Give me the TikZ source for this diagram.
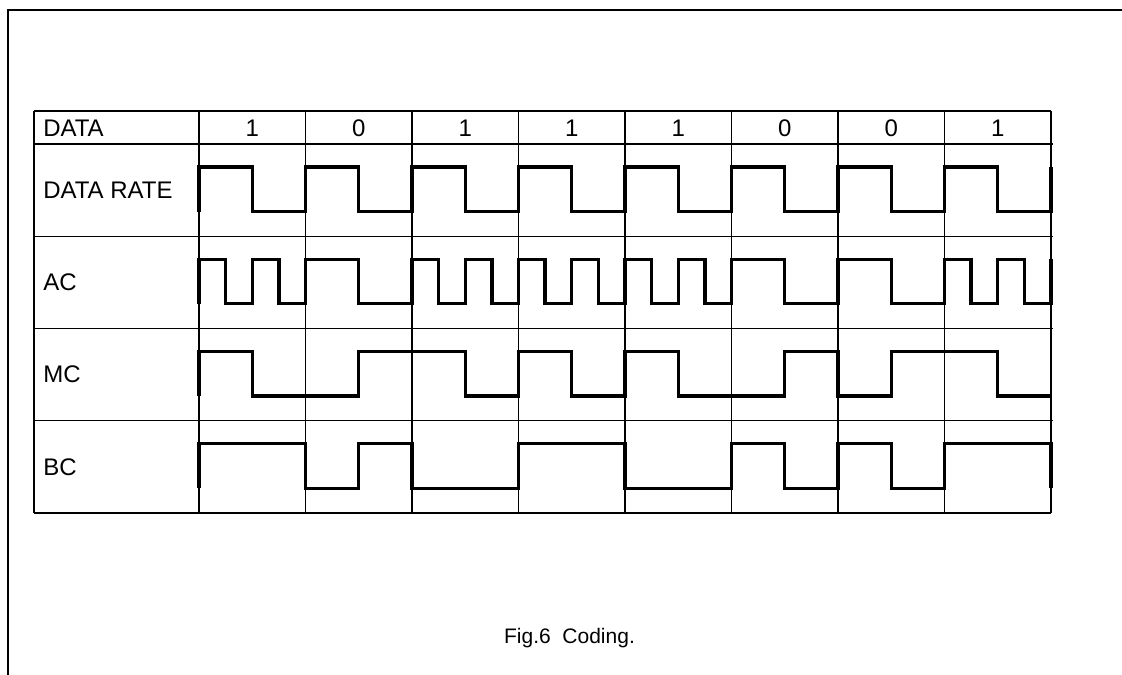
\documentclass[tikz,border=0pt]{standalone}
\usepackage{fontspec}
\setmainfont{Liberation Sans}
\begin{document}
\begin{tikzpicture}[x=0.75pt,y=-0.75pt,
  gridline/.style={line width=0.85pt},
  borderline/.style={line width=1.1pt},
  wave/.style={line width=2.6pt,line join=miter,line cap=butt},
  lbl/.style={anchor=base west,inner sep=0pt,font=\fontsize{18}{21}\selectfont},
  bitlbl/.style={anchor=base,inner sep=0pt,font=\fontsize{18}{21}\selectfont},
  caption/.style={anchor=base,inner sep=0pt,font=\fontsize{15.75}{18}\selectfont}]
\useasboundingbox (0,0) rectangle (1122,675);
% outer frame (partially visible)
\draw[line width=1.5pt] (8,675) -- (8,10) -- (1122,10);
% table rows
\foreach \yy in {144,236.25,328.5,420.75}
  \draw[gridline] (34,\yy) -- (1053,\yy);
\draw[borderline] (34,111) -- (1051,111);
\draw[borderline] (34,513) -- (1051,513);
\draw[borderline] (34,111) -- (34,513);
% column lines
\foreach \i in {0,...,8}
  \draw[borderline] ({199+106.5*\i},111) -- ({199+106.5*\i},513);
% labels
\node[lbl] (ldata) at (43,136.5) {DATA};
\node[lbl] (lrate) at (43,198.4) {DATA RATE};
\node[lbl] (lac) at (43,290.7) {AC};
\node[lbl] (lmc) at (43,382.9) {MC};
\node[lbl] (lbc) at (43,475.2) {BC};
% data bits
\foreach \b [count=\i from 0] in {1,0,1,1,1,0,0,1}
  \node[bitlbl] (b\i) at ({252.25+106.5*\i},136.5) {\b};
% DATA RATE
\begin{scope}[shift={(199,211.5)},x=19.96875pt,y=33.375pt]
\draw[wave] (0,0) |- (2,1) |- (4,0) |- (6,1) |- (8,0) |- (10,1) |- (12,0)
  |- (14,1) |- (16,0) |- (18,1) |- (20,0) |- (22,1) |- (24,0) |- (26,1)
  |- (28,0) |- (30,1) |- (32,0) -- (32,1);
\end{scope}
% AC
\begin{scope}[shift={(199,303.75)},x=19.96875pt,y=33.375pt]
\draw[wave] (0,0) |- (1,1) |- (2,0) |- (3,1) |- (4,0) |- (6,1) |- (8,0)
  |- (9,1) |- (10,0) |- (11,1) |- (12,0) |- (13,1) |- (14,0) |- (15,1)
  |- (16,0) |- (17,1) |- (18,0) |- (19,1) |- (20,0) |- (22,1) |- (24,0)
  |- (26,1) |- (28,0) |- (29,1) |- (30,0) |- (31,1) |- (32,0) -- (32,1);
\end{scope}
% MC
\begin{scope}[shift={(199,396)},x=19.96875pt,y=33.375pt]
\draw[wave] (0,0) |- (2,1) |- (6,0) |- (10,1) |- (12,0) |- (14,1) |- (16,0)
  |- (18,1) |- (22,0) |- (24,1) |- (26,0) |- (30,1) |- (32,0);
\end{scope}
% BC
\begin{scope}[shift={(199,488.25)},x=19.96875pt,y=33.375pt]
\draw[wave] (0,0) |- (4,1) |- (6,0) |- (8,1) |- (12,0) |- (16,1) |- (20,0)
  |- (22,1) |- (24,0) |- (26,1) |- (28,0) |- (32,1) -- (32,0);
\end{scope}
% caption
\node[caption] (cap) at (569.5,643.3) {Fig.6\ \ Coding.};
\end{tikzpicture}
\end{document}
